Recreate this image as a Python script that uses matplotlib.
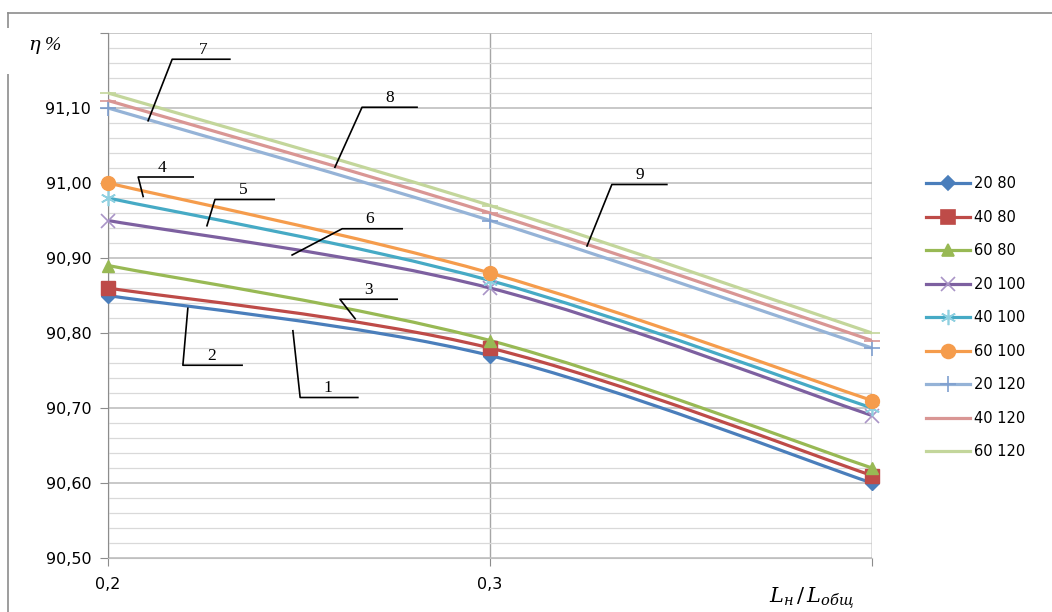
import matplotlib.pyplot as plt
import matplotlib.patches as mpatches
from matplotlib.path import Path
from matplotlib.lines import Line2D
from matplotlib.ticker import MultipleLocator, FuncFormatter

plt.rcParams['mathtext.fontset'] = 'dejavuserif'

# data
x_labels = ['0,2', '0,3', '']
series_names = ['20 80', '40 80', '60 80', '20 100', '40 100', '60 100',
                '20 120', '40 120', '60 120']
s_20_80 = [90.85, 90.77, 90.60]
s_40_80 = [90.86, 90.78, 90.61]
s_60_80 = [90.89, 90.79, 90.62]
s_20_100 = [90.95, 90.86, 90.69]
s_40_100 = [90.98, 90.87, 90.70]
s_60_100 = [91.00, 90.88, 90.71]
s_20_120 = [91.10, 90.95, 90.78]
s_40_120 = [91.11, 90.96, 90.79]
s_60_120 = [91.12, 90.97, 90.80]
all_series = [s_20_80, s_40_80, s_60_80, s_20_100, s_40_100, s_60_100,
              s_20_120, s_40_120, s_60_120]

colors = ['#4A7EBB', '#BE4B48', '#98B954', '#7D60A0', '#46AAC5', '#F59C4C',
          '#95B3D7', '#D99694', '#C3D69B']
marker_colors = ['#4A7EBB', '#BE4B48', '#98B954', '#A994C6', '#8FD0E0', '#F59C4C',
                 '#7F9FCF', '#D99694', '#C3D69B']
markers = ['D', 's', '^', 'x', (6, 2, 0), 'o', '+', '_', '_']
msizes = [7, 10, 9, 10, 11, 10, 11, 11, 11]

# leader lines for curve numbers: (start, bend, end), label pos
leaders = [
    ('1', [(0.484, 90.803), (0.503, 90.714), (0.654, 90.714)], (0.576, 90.716)),
    ('2', [(0.209, 90.833), (0.196, 90.757), (0.351, 90.757)], (0.272, 90.759)),
    ('3', [(0.647, 90.819), (0.607, 90.845), (0.757, 90.845)], (0.681, 90.847)),
    ('4', [(0.092, 90.982), (0.079, 91.008), (0.223, 91.008)], (0.141, 91.010)),
    ('5', [(0.259, 90.943), (0.280, 90.978), (0.435, 90.978)], (0.353, 90.980)),
    ('6', [(0.482, 90.904), (0.613, 90.939), (0.770, 90.939)], (0.686, 90.941)),
    ('7', [(0.105, 91.083), (0.168, 91.165), (0.319, 91.165)], (0.249, 91.167)),
    ('8', [(0.594, 91.021), (0.665, 91.101), (0.809, 91.101)], (0.738, 91.103)),
    ('9', [(1.254, 90.916), (1.319, 90.998), (1.463, 90.998)], (1.393, 91.000)),
]


def smooth_path(xs, ys):
    # Catmull-Rom style bezier through the points (like Excel smoothed lines)
    pts = list(zip(xs, ys))
    n = len(pts)
    verts = [pts[0]]
    codes = [Path.MOVETO]
    for i in range(n - 1):
        p0 = pts[i - 1] if i > 0 else pts[i]
        p1 = pts[i]
        p2 = pts[i + 1]
        p3 = pts[i + 2] if i + 2 < n else pts[i + 1]
        c1 = (p1[0] + (p2[0] - p0[0]) / 6, p1[1] + (p2[1] - p0[1]) / 6)
        c2 = (p2[0] - (p3[0] - p1[0]) / 6, p2[1] - (p3[1] - p1[1]) / 6)
        verts += [c1, c2, p2]
        codes += [Path.CURVE4] * 3
    return Path(verts, codes)


fig = plt.figure(figsize=(10.52, 6.12), dpi=100)
ax = fig.add_axes([108 / 1052, 1 - 558 / 612, (872 - 108) / 1052, (558 - 33) / 612])

xs = list(range(len(x_labels)))
for vals, name, c, mc, m, ms in zip(all_series, series_names, colors, marker_colors,
                                    markers, msizes):
    ax.add_patch(mpatches.PathPatch(smooth_path(xs, vals), fill=False,
                                    edgecolor=c, lw=2.3, zorder=3))
    mew = 1.2 if m in ('x', '+', '_', (6, 2, 0)) else 1
    ax.plot(xs, vals, linestyle='none', marker=m, color=mc, markersize=ms,
            markeredgewidth=mew, zorder=4, clip_on=False)

for num, pts, tpos in leaders:
    ax.plot([p[0] for p in pts], [p[1] for p in pts], color='black', lw=1.2, zorder=5)
    ax.text(tpos[0], tpos[1], num, fontsize=12.5, family='Liberation Serif',
            ha='center', va='bottom', zorder=6)

ax.set_xlim(0, 2)
ax.set_ylim(90.50, 91.20)
ax.set_xticks(xs)
ax.set_xticklabels(x_labels)
ax.yaxis.set_major_locator(MultipleLocator(0.1))
ax.yaxis.set_minor_locator(MultipleLocator(0.02))
# top label (91,20) is hidden behind the axis title box in the original
ax.yaxis.set_major_formatter(FuncFormatter(
    lambda v, p: '' if v > 91.15 else ('%.2f' % v).replace('.', ',')))
ax.tick_params(axis='y', which='major', length=6, color='#8C8C8C', labelsize=11.5,
               pad=6)
ax.tick_params(axis='y', which='minor', length=0)
ax.tick_params(axis='x', length=6, color='#8C8C8C', labelsize=11.5, pad=8)
ax.grid(True, which='major', axis='y', color='#BFBFBF', lw=1.2)
ax.grid(True, which='minor', axis='y', color='#D9D9D9', lw=0.9)
ax.grid(True, which='major', axis='x', color='#A6A6A6', lw=1.0)
ax.set_axisbelow(True)
for side in ['top', 'right']:
    ax.spines[side].set_visible(False)
ax.spines['left'].set_color('#8C8C8C')
ax.spines['bottom'].set_color('#BFBFBF')
ax.axvline(2, color='#A6A6A6', lw=1.0, zorder=1)

# outer chart border (only left and top visible in the crop)
fig.add_artist(Line2D([8 / 1052, 8 / 1052], [0, 1 - 13 / 612],
                      transform=fig.transFigure, color='#8C8C8C', lw=1.2))
fig.add_artist(Line2D([8 / 1052, 1], [1 - 13 / 612, 1 - 13 / 612],
                      transform=fig.transFigure, color='#8C8C8C', lw=1.2))

# white box behind the axis title
fig.add_artist(mpatches.Rectangle((4 / 1052, 1 - 74 / 612), 96 / 1052, 46 / 612,
                                  transform=fig.transFigure, facecolor='white',
                                  edgecolor='none', zorder=10))
fig.text(45 / 1052, 1 - 45 / 612, r'$\eta$ %', fontsize=14, family='Liberation Serif',
         style='italic', ha='center', va='center', zorder=11)
fig.text(812 / 1052, 1 - 598 / 612, r'$L_{н}\,/\,L_{общ}$', fontsize=15,
         ha='center', va='center')

handles = [Line2D([], [], color=c, lw=2.3, marker=m, markersize=ms, markerfacecolor=mc,
                  markeredgecolor=mc, markeredgewidth=1.2)
           for c, mc, m, ms in zip(colors, marker_colors, markers, msizes)]
fig.legend(handles, series_names, loc='upper left',
           bbox_to_anchor=(913 / 1052, 1 - 163 / 612), frameon=False,
           fontsize=10.5, labelspacing=1.27, handlelength=3.0, handletextpad=0.3)

fig.savefig('out.png', dpi=100)
